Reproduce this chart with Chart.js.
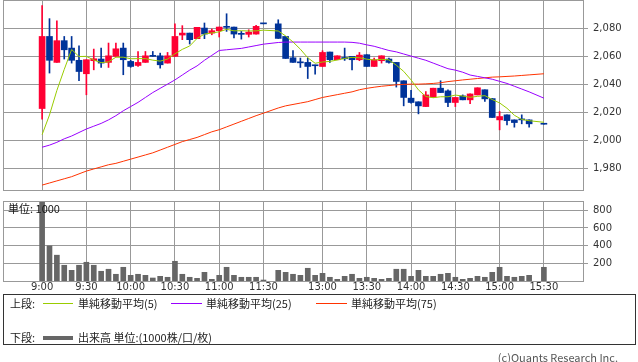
<!DOCTYPE html>
<html>
<head>
<meta charset="utf-8">
<script src="https://cdn.jsdelivr.net/npm/chart.js@4.4.3/dist/chart.umd.min.js"></script>
<style>
  body { margin: 0; background: #fff; width: 638px; height: 362px; position: relative; overflow: hidden;
         font-family: "Noto Sans CJK JP", sans-serif; color: #222; }
  canvas { position: absolute; left: 0; }
  #price { top: 0; }
  #vol { top: 196px; }
  .t { position: absolute; font-size: 11px; line-height: 13px; white-space: nowrap; }
  .ln { position: absolute; height: 1px; }
  #legend { position: absolute; left: 3px; top: 294px; width: 633px; height: 51px; border: 1px solid #333; box-sizing: border-box; }
</style>
</head>
<body>
<canvas id="price" width="638" height="191"></canvas>
<canvas id="vol" width="638" height="102"></canvas>
<div class="t" style="left:8px;top:202px;color:#111">単位: 1000</div>
<div id="legend"></div>
<div class="t" style="left:10px;top:297px">上段:</div>
<div class="ln" style="left:43px;top:303px;width:30px;background:#99cc00"></div>
<div class="t" style="left:78px;top:297px">単純移動平均(5)</div>
<div class="ln" style="left:171px;top:303px;width:31px;background:#9900ff"></div>
<div class="t" style="left:206px;top:297px">単純移動平均(25)</div>
<div class="ln" style="left:316px;top:303px;width:31px;background:#ff3300"></div>
<div class="t" style="left:351px;top:297px">単純移動平均(75)</div>
<div class="t" style="left:10px;top:331px">下段:</div>
<div class="ln" style="left:43px;top:336px;width:30px;height:4px;background:#666"></div>
<div class="t" style="left:78px;top:331px">出来高 単位:(1000株/口/枚)</div>
<div class="t" style="right:20px;top:351px;color:#555">(c)Quants Research Inc.</div>
<script>
// 5-minute bars, slot 31 = lunch gap, slot 67 = 15:25 (no trades)
const opens = [2022.6, 2074, 2055.5, 2071, 2065.7, 2057, 2047.4, 2056.7, 2057.9, 2055.5, 2059.8, 2065.7, 2056.2, 2053.3, 2055.5, 2060.2, 2060.2, 2055, 2059.8, 2075, 2076.4, 2072.4, 2080, 2076.4, 2078.1, 2081, 2080.7, 2076, 2075.5, 2075.7, 2083, null,
  2083, 2074, 2058.8, 2055.7, 2055.5, 2053.5, 2052.6, 2062.9, 2057.4, 2059, 2059.8, 2057.4, 2061, 2052.6, 2056.7, 2057.9, 2055.5, 2042.4, 2030, 2027.4, 2024, 2030.7, 2037.1, 2035.2, 2026.9, 2031.6, 2028.8, 2032.3, 2036, 2029.7, 2014.5, 2018.1, 2014.5, 2014.9, 2014.5, null, 2011.4];
const highs = [2096, 2086.7, 2085.2, 2074, 2074, 2067.4, 2057.4, 2065, 2065.7, 2069.3, 2069.3, 2069.3, 2057, 2063.3, 2063.3, 2063.3, 2062.1, 2062.6, 2083, 2081.7, 2076.4, 2080.5, 2083.6, 2079.3, 2080.7, 2090.2, 2080.7, 2077.6, 2078.8, 2081.9, 2083, null,
  2085.9, 2074, 2064, 2058.6, 2058.6, 2053.5, 2063.8, 2062.9, 2060.2, 2065.7, 2059.8, 2062.6, 2061, 2058.6, 2060.2, 2058.6, 2055.5, 2042.4, 2035.5, 2027.4, 2034.7, 2037.1, 2042.4, 2035.9, 2030.5, 2032.3, 2033, 2037.4, 2036, 2029.7, 2020.5, 2018.1, 2014.5, 2018.1, 2014.5, null, 2011.4];
const lows = [2015, 2047.9, 2055.5, 2057.9, 2055, 2042.4, 2032.4, 2050.2, 2051.9, 2051.9, 2059.8, 2046.7, 2052, 2052.6, 2055.5, 2059.8, 2051.4, 2055, 2059.8, 2071.7, 2068.6, 2072.4, 2072.4, 2075.2, 2073.6, 2077.6, 2072.9, 2072.1, 2073.6, 2075.7, 2083, null,
  2072.6, 2058.3, 2055.5, 2051.9, 2044, 2047.1, 2052.6, 2055.5, 2057.4, 2056.9, 2050.2, 2056.7, 2052.6, 2052.6, 2055, 2055, 2037.9, 2024.5, 2026.4, 2018.8, 2024, 2030.7, 2034, 2024, 2024, 2028.8, 2026, 2032.3, 2027.6, 2016.2, 2007.4, 2010.9, 2009.3, 2011.7, 2009.3, null, 2011.4];
const closes = [2074, 2057, 2071, 2064.5, 2057, 2049, 2057.4, 2058.1, 2055, 2060.2, 2065.2, 2057.4, 2052.6, 2055.5, 2060.2, 2059.8, 2053.8, 2060.2, 2074, 2076.4, 2071.7, 2080.5, 2075.7, 2078.1, 2080.7, 2080.5, 2075.7, 2075.5, 2077.1, 2081.2, 2083, null,
  2072.6, 2058.3, 2055.5, 2055.2, 2052.6, 2053.1, 2062.6, 2057.4, 2060.2, 2058.1, 2057.4, 2060.7, 2052.6, 2057.4, 2060.2, 2055.5, 2041.9, 2030.5, 2026.9, 2024.5, 2032.3, 2037.1, 2034, 2026.9, 2030.5, 2028.8, 2033, 2037.4, 2029.5, 2016.2, 2016.9, 2014, 2012.6, 2014.5, 2011.7, null, 2011.4];
const volumes = [1000, 398, 292, 178, 121, 178, 212, 178, 110, 133, 76, 155, 64, 76, 64, 34, 53, 42, 223, 76, 42, 30, 98, 19, 64, 155, 64, 42, 42, 42, 11, null,
  121, 98, 76, 64, 144, 64, 87, 42, 19, 53, 76, 30, 42, 30, 19, 30, 133, 133, 53, 121, 53, 53, 76, 87, 42, 19, 30, 53, 42, 98, 155, 53, 42, 53, 64, null, 155];
const ma5 = [2004, 2018, 2035.5, 2050.5, 2064.7, 2059.7, 2059.8, 2057.2, 2055.3, 2055.9, 2059.2, 2059.2, 2058.1, 2058.2, 2058.2, 2057.1, 2056.4, 2057.9, 2061.6, 2064.8, 2067.2, 2072.6, 2075.7, 2076.5, 2077.3, 2079.1, 2078, 2078.1, 2077.9, 2078, 2078.5, null,
  2077.9, 2074.4, 2070.1, 2064.9, 2058.8, 2054.9, 2055.8, 2056.2, 2057.2, 2058.3, 2059.1, 2058.8, 2057.8, 2057.2, 2057.7, 2057.3, 2053.5, 2049.1, 2043, 2035.9, 2031.2, 2030.3, 2031, 2031, 2032.2, 2031.5, 2030.6, 2031.3, 2031.8, 2029, 2026.6, 2022.8, 2017.8, 2014.8, 2013.9, null, 2012.8];
const ma25 = [1995, 1996.5, 1998.5, 2001, 2003, 2005.5, 2008, 2010, 2012, 2014.5, 2017.5, 2021, 2024, 2027, 2030.5, 2034, 2037, 2040, 2043, 2046.5, 2050, 2053, 2057, 2060.5, 2064, 2064.5, 2065, 2065.5, 2066.5, 2067.5, 2068.5, null,
  2069.7, 2070, 2070, 2070, 2070, 2070, 2070, 2070, 2070, 2070, 2069.8, 2069.2, 2068, 2067, 2065.5, 2064, 2063, 2061.5, 2060, 2058.5, 2057, 2055, 2053, 2051, 2050, 2048.5, 2046.5, 2045.5, 2044.5, 2043.5, 2042, 2040.5, 2038.5, 2036.5, 2034.5, null, 2030];
const ma75 = [1968, 1969.5, 1971, 1972.5, 1974, 1976, 1978, 1979.5, 1981, 1982.5, 1983.5, 1985, 1986.5, 1988, 1989.5, 1991, 1993, 1995, 1997, 1999, 2000.5, 2002, 2004, 2006, 2007.5, 2009.5, 2011.5, 2013.5, 2015.5, 2017.5, 2019.3, null,
  2023, 2024.5, 2025.5, 2026.5, 2027.5, 2029, 2030.5, 2031.5, 2032.5, 2033.5, 2034.5, 2036, 2037, 2037.8, 2038.5, 2039, 2039.5, 2039.8, 2040, 2040, 2040.2, 2040.5, 2041, 2041.8, 2042.4, 2043, 2043.5, 2044, 2044.5, 2045, 2045.2, 2045.5, 2045.8, 2046.2, 2046.6, null, 2047.4];

const tickIdx = [0, 6, 12, 18, 24, 30, 38, 44, 50, 56, 62, 68];
const tickLabels = ["9:00", "9:30", "10:00", "10:30", "11:00", "11:30", "13:00", "13:30", "14:00", "14:30", "15:00", "15:30"];
const priceTicks = [1980, 2000, 2020, 2040, 2060, 2080];
const volTicks = [200, 400, 600, 800];

const RED = "#ff0033";
const BLUE = "#003399";
const GRID = "#999999";
const TXT = "#333333";
const X_MIN = -5.3, X_MAX = 73.3;

Chart.defaults.font.family = "DejaVu Sans";
Chart.defaults.font.size = 10;
Chart.defaults.color = TXT;

const idx = opens.map((v, i) => (v == null ? -1 : i)).filter((i) => i >= 0);
const candleColors = idx.map((i) => (closes[i] > opens[i] ? RED : BLUE));
const pts = (arr) => arr.map((v, i) => (v == null ? null : { x: i, y: v })).filter(Boolean);

// draws the plot frame around the chart area
const frame = {
  id: "frame",
  afterDraw(chart) {
    const { ctx, chartArea: a } = chart;
    ctx.save();
    ctx.strokeStyle = GRID;
    ctx.lineWidth = 1;
    ctx.strokeRect(Math.round(a.left) + 0.5, Math.round(a.top) + 0.5, Math.round(a.right - a.left), Math.round(a.bottom - a.top));
    ctx.restore();
  },
};

const xScale = (showLabels, h) => ({
  type: "linear", min: X_MIN, max: X_MAX, offset: false,
  grid: { color: GRID, offset: false, drawTicks: false },
  border: { display: false },
  ticks: { display: showLabels, padding: 0, maxRotation: 0, autoSkip: false, color: TXT,
    callback: (v) => tickLabels[tickIdx.indexOf(v)] ?? "" },
  afterBuildTicks: (s) => { s.ticks = tickIdx.map((v) => ({ value: v })); },
  afterFit: (s) => { s.height = h; s.paddingLeft = 0; s.paddingRight = 0; },
});

const yScale = (min, max, ticks) => ({
  position: "right", min, max,
  grid: { color: GRID, tickLength: 5 },
  border: { display: false },
  ticks: { padding: 5, color: TXT, callback: (v) => v.toLocaleString("en-US") },
  afterBuildTicks: (s) => { s.ticks = ticks.map((v) => ({ value: v })); },
  afterFit: (s) => { s.width = 55; s.paddingTop = 0; s.paddingBottom = 0; },
});

const common = {
  responsive: false, animation: false, events: [],
  plugins: { legend: { display: false }, tooltip: { enabled: false } },
};

new Chart(document.getElementById("price"), {
  type: "bar",
  data: {
    datasets: [
      { type: "line", data: pts(ma5), borderColor: "#99cc00", borderWidth: 1, pointRadius: 0, tension: 0, order: 0 },
      { type: "line", data: pts(ma25), borderColor: "#9900ff", borderWidth: 1, pointRadius: 0, tension: 0, order: 0 },
      { type: "line", data: pts(ma75), borderColor: "#ff3300", borderWidth: 1, pointRadius: 0, tension: 0, order: 0 },
      { data: idx.map((i) => ({ x: i, y: [opens[i], closes[i]] })), backgroundColor: candleColors,
        barThickness: 6, minBarLength: 1, grouped: false, order: 1 },
      { data: idx.map((i) => ({ x: i, y: [lows[i], highs[i]] })), backgroundColor: candleColors,
        barThickness: 1, grouped: false, order: 2 },
    ],
  },
  options: {
    ...common,
    layout: { padding: { left: 3, top: 0, right: 0, bottom: 1 } },
    scales: { x: xScale(false, 0), y: yScale(1964.5, 2100, priceTicks) },
  },
  plugins: [frame],
});

new Chart(document.getElementById("vol"), {
  type: "bar",
  data: {
    datasets: [
      { data: idx.map((i) => ({ x: i, y: volumes[i] })), backgroundColor: "#666666", barThickness: 5 },
    ],
  },
  options: {
    ...common,
    layout: { padding: { left: 3, top: 5, right: 0, bottom: 0 } },
    scales: { x: xScale(true, 17), y: yScale(0, 905, volTicks) },
  },
  plugins: [frame],
});
</script>
</body>
</html>
